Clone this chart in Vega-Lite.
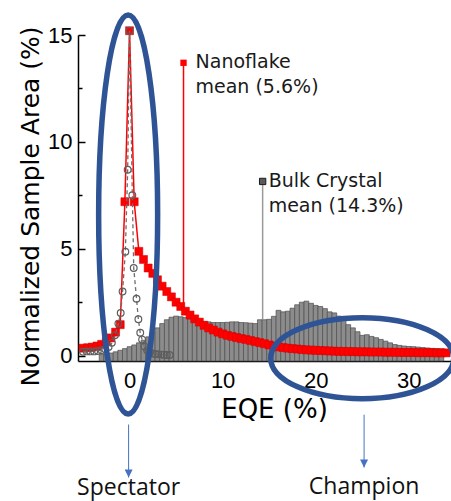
{
  "$schema": "https://vega.github.io/schema/vega-lite/v6.json",
  "width": 373,
  "height": 326,
  "autosize": {"type": "none"},
  "padding": {"left": 78, "top": 35, "right": 0, "bottom": 140},
  "background": "white",
  "config": {
    "view": {"stroke": null},
    "axis": {
      "grid": false,
      "domainColor": "#000",
      "domainWidth": 1.5,
      "tickColor": "#000",
      "tickWidth": 1.5,
      "labelColor": "#000",
      "labelFont": "Liberation Sans",
      "labelFontSize": 22,
      "titleColor": "#000",
      "titleFont": "DejaVu Sans",
      "titleFontWeight": "normal"
    }
  },
  "datasets": {
    "hist": [
      {"eqe": -3.0, "area": 0.05}, {"eqe": -2.5, "area": 0.08}, {"eqe": -2.0, "area": 0.12}, {"eqe": -1.5, "area": 0.18},
      {"eqe": -1.0, "area": 0.25}, {"eqe": -0.5, "area": 0.33}, {"eqe": 0.0, "area": 0.42}, {"eqe": 0.5, "area": 0.5},
      {"eqe": 1.0, "area": 0.6}, {"eqe": 1.5, "area": 0.72}, {"eqe": 2.0, "area": 0.88}, {"eqe": 2.5, "area": 1.1},
      {"eqe": 3.0, "area": 1.3}, {"eqe": 3.5, "area": 1.5}, {"eqe": 4.0, "area": 1.68}, {"eqe": 4.5, "area": 1.8},
      {"eqe": 5.0, "area": 1.85}, {"eqe": 5.5, "area": 1.82}, {"eqe": 6.0, "area": 1.78}, {"eqe": 6.5, "area": 1.72},
      {"eqe": 7.0, "area": 1.68}, {"eqe": 7.5, "area": 1.62}, {"eqe": 8.0, "area": 1.6}, {"eqe": 8.5, "area": 1.58},
      {"eqe": 9.0, "area": 1.55}, {"eqe": 9.5, "area": 1.55}, {"eqe": 10.0, "area": 1.55}, {"eqe": 10.5, "area": 1.56},
      {"eqe": 11.0, "area": 1.58}, {"eqe": 11.5, "area": 1.58}, {"eqe": 12.0, "area": 1.55}, {"eqe": 12.5, "area": 1.54},
      {"eqe": 13.0, "area": 1.52}, {"eqe": 13.5, "area": 1.5}, {"eqe": 14.0, "area": 1.68}, {"eqe": 14.5, "area": 1.68},
      {"eqe": 15.0, "area": 1.7}, {"eqe": 15.5, "area": 1.84}, {"eqe": 16.0, "area": 2.12}, {"eqe": 16.5, "area": 2.05},
      {"eqe": 17.0, "area": 2.08}, {"eqe": 17.5, "area": 2.22}, {"eqe": 18.0, "area": 2.38}, {"eqe": 18.5, "area": 2.5},
      {"eqe": 19.0, "area": 2.55}, {"eqe": 19.5, "area": 2.45}, {"eqe": 20.0, "area": 2.35}, {"eqe": 20.5, "area": 2.3},
      {"eqe": 21.0, "area": 2.2}, {"eqe": 21.5, "area": 2.05}, {"eqe": 22.0, "area": 2.0}, {"eqe": 22.5, "area": 1.85},
      {"eqe": 23.0, "area": 1.65}, {"eqe": 23.5, "area": 1.45}, {"eqe": 24.0, "area": 1.3}, {"eqe": 24.5, "area": 1.12},
      {"eqe": 25.0, "area": 0.95}, {"eqe": 25.5, "area": 0.98}, {"eqe": 26.0, "area": 0.9}, {"eqe": 26.5, "area": 0.84},
      {"eqe": 27.0, "area": 0.76}, {"eqe": 27.5, "area": 0.68}, {"eqe": 28.0, "area": 0.6}, {"eqe": 28.5, "area": 0.52},
      {"eqe": 29.0, "area": 0.48}, {"eqe": 29.5, "area": 0.45}, {"eqe": 30.0, "area": 0.43}, {"eqe": 30.5, "area": 0.42},
      {"eqe": 31.0, "area": 0.4}, {"eqe": 31.5, "area": 0.38}, {"eqe": 32.0, "area": 0.36}, {"eqe": 32.5, "area": 0.34},
      {"eqe": 33.0, "area": 0.33}, {"eqe": 33.5, "area": 0.32}
    ],
    "nano": [
      {"eqe": -5.0, "area": 0.35}, {"eqe": -4.5, "area": 0.37}, {"eqe": -4.0, "area": 0.4}, {"eqe": -3.5, "area": 0.45},
      {"eqe": -3.0, "area": 0.53}, {"eqe": -2.5, "area": 0.65}, {"eqe": -2.0, "area": 0.83}, {"eqe": -1.5, "area": 1.1},
      {"eqe": -1.0, "area": 1.45}, {"eqe": -0.5, "area": 7.2}, {"eqe": 0.0, "area": 15.2}, {"eqe": 0.5, "area": 7.2},
      {"eqe": 1.0, "area": 4.88}, {"eqe": 1.5, "area": 4.5}, {"eqe": 2.0, "area": 4.1}, {"eqe": 2.5, "area": 3.85},
      {"eqe": 3.0, "area": 3.55}, {"eqe": 3.5, "area": 3.25}, {"eqe": 4.0, "area": 3.0}, {"eqe": 4.5, "area": 2.75},
      {"eqe": 5.0, "area": 2.5}, {"eqe": 5.5, "area": 2.3}, {"eqe": 6.0, "area": 2.08}, {"eqe": 6.5, "area": 1.9},
      {"eqe": 7.0, "area": 1.72}, {"eqe": 7.5, "area": 1.57}, {"eqe": 8.0, "area": 1.42}, {"eqe": 8.5, "area": 1.3},
      {"eqe": 9.0, "area": 1.2}, {"eqe": 9.5, "area": 1.1}, {"eqe": 10.0, "area": 1.02}, {"eqe": 10.5, "area": 0.95},
      {"eqe": 11.0, "area": 0.9}, {"eqe": 11.5, "area": 0.85}, {"eqe": 12.0, "area": 0.8}, {"eqe": 12.5, "area": 0.76},
      {"eqe": 13.0, "area": 0.71}, {"eqe": 13.5, "area": 0.66}, {"eqe": 14.0, "area": 0.61}, {"eqe": 14.5, "area": 0.56},
      {"eqe": 15.0, "area": 0.5}, {"eqe": 15.5, "area": 0.45}, {"eqe": 16.0, "area": 0.41}, {"eqe": 16.5, "area": 0.38},
      {"eqe": 17.0, "area": 0.35}, {"eqe": 17.5, "area": 0.33}, {"eqe": 18.0, "area": 0.31}, {"eqe": 18.5, "area": 0.29},
      {"eqe": 19.0, "area": 0.27}, {"eqe": 19.5, "area": 0.26}, {"eqe": 20.0, "area": 0.25}, {"eqe": 20.5, "area": 0.24},
      {"eqe": 21.0, "area": 0.23}, {"eqe": 21.5, "area": 0.22}, {"eqe": 22.0, "area": 0.21}, {"eqe": 22.5, "area": 0.2},
      {"eqe": 23.0, "area": 0.2}, {"eqe": 23.5, "area": 0.19}, {"eqe": 24.0, "area": 0.19}, {"eqe": 24.5, "area": 0.18},
      {"eqe": 25.0, "area": 0.18}, {"eqe": 25.5, "area": 0.18}, {"eqe": 26.0, "area": 0.17}, {"eqe": 26.5, "area": 0.17},
      {"eqe": 27.0, "area": 0.17}, {"eqe": 27.5, "area": 0.16}, {"eqe": 28.0, "area": 0.16}, {"eqe": 28.5, "area": 0.16},
      {"eqe": 29.0, "area": 0.15}, {"eqe": 29.5, "area": 0.15}, {"eqe": 30.0, "area": 0.15}, {"eqe": 30.5, "area": 0.15},
      {"eqe": 31.0, "area": 0.14}, {"eqe": 31.5, "area": 0.14}, {"eqe": 32.0, "area": 0.14}, {"eqe": 32.5, "area": 0.14},
      {"eqe": 33.0, "area": 0.13}, {"eqe": 33.5, "area": 0.13}, {"eqe": 34.0, "area": 0.13}
    ],
    "dots": [
      {"eqe": -5.0, "area": 0.18}, {"eqe": -4.6, "area": 0.2}, {"eqe": -4.2, "area": 0.2}, {"eqe": -3.8, "area": 0.2},
      {"eqe": -3.4, "area": 0.22}, {"eqe": -3.0, "area": 0.25}, {"eqe": -2.6, "area": 0.3}, {"eqe": -2.25, "area": 0.4},
      {"eqe": -1.9, "area": 0.6}, {"eqe": -1.57, "area": 0.95}, {"eqe": -1.2, "area": 1.5}, {"eqe": -0.95, "area": 2.0},
      {"eqe": -0.75, "area": 3.0}, {"eqe": -0.45, "area": 4.86}, {"eqe": -0.2, "area": 8.7}, {"eqe": 0.0, "area": 15.2},
      {"eqe": 0.3, "area": 7.5}, {"eqe": 0.45, "area": 4.1}, {"eqe": 0.75, "area": 2.66}, {"eqe": 0.95, "area": 1.7},
      {"eqe": 1.15, "area": 1.07}, {"eqe": 1.35, "area": 0.75}, {"eqe": 1.6, "area": 0.43}, {"eqe": 1.9, "area": 0.25},
      {"eqe": 2.2, "area": 0.15}, {"eqe": 2.5, "area": 0.1}, {"eqe": 2.8, "area": 0.08}, {"eqe": 3.1, "area": 0.06},
      {"eqe": 3.4, "area": 0.05}, {"eqe": 3.7, "area": 0.04}, {"eqe": 4.0, "area": 0.03}, {"eqe": 4.3, "area": 0.03}
    ],
    "means": [
      {"sample": "Nanoflake", "mean": 5.8, "top": 13.7, "base": 2.05, "label": "Nanoflake\nmean (5.6%)"},
      {"sample": "Bulk Crystal", "mean": 14.3, "top": 8.15, "base": 1.7, "label": "Bulk Crystal\nmean (14.3%)"}
    ],
    "notes": [
      {"tag": "Spectator", "cx": -0.15, "cy": 6.6, "ax": -0.1, "ay1": -3.22, "ay2": -5.7, "ty": -6.5},
      {"tag": "Champion", "cx": 25.0, "cy": -0.12, "ax": 25.2, "ay1": -2.76, "ay2": -5.23, "ty": -6.45}
    ]
  },
  "layer": [
    {
      "data": {"name": "hist"},
      "mark": {"type": "bar", "size": 4.8, "fill": "#8c8c8c", "stroke": "#4d4d4d", "strokeWidth": 0.7},
      "encoding": {
        "x": {
          "field": "eqe", "type": "quantitative",
          "scale": {"domain": [-5, 34], "nice": false, "zero": false},
          "axis": {
            "title": "EQE (%)",
            "titleFontSize": 26,
            "titleX": 196,
            "titleY": 56,
            "titleBaseline": "alphabetic",
            "values": [0, 5, 10, 15, 20, 25, 30],
            "labelExpr": "datum.value % 10 === 0 ? datum.label : ''",
            "tickSize": {"condition": {"test": "datum.value % 10 === 0", "value": -7}, "value": -4},
            "labelPadding": 16,
            "labelFlush": false
          }
        },
        "y": {
          "field": "area", "type": "quantitative",
          "scale": {"domain": [-0.25, 15], "nice": false, "zero": false},
          "axis": {
            "title": "Normalized Sample Area (%)",
            "titleFontSize": 25,
            "titleX": -40,
            "titleY": 171,
            "titleBaseline": "alphabetic",
            "values": [0, 2.5, 5, 7.5, 10, 12.5, 15],
            "labelExpr": "datum.value % 5 === 0 ? datum.label : ''",
            "tickSize": {"condition": {"test": "datum.value % 5 === 0", "value": -7}, "value": -4},
            "labelPadding": 13,
            "labelFlush": false
          }
        },
        "y2": {"datum": -0.25}
      }
    },
    {
      "data": {"name": "means"},
      "transform": [{"filter": "datum.sample === 'Bulk Crystal'"}],
      "mark": {"type": "rule", "color": "#9a9a9a", "strokeWidth": 1.5},
      "encoding": {
        "x": {"field": "mean", "type": "quantitative", "scale": {"domain": [-5, 34], "nice": false, "zero": false}},
        "y": {"field": "top", "type": "quantitative", "scale": {"domain": [-0.25, 15], "nice": false, "zero": false}},
        "y2": {"field": "base"}
      }
    },
    {
      "data": {"name": "means"},
      "transform": [{"filter": "datum.sample === 'Nanoflake'"}],
      "mark": {"type": "rule", "color": "#ff0000", "strokeWidth": 1.5},
      "encoding": {
        "x": {"field": "mean", "type": "quantitative", "scale": {"domain": [-5, 34], "nice": false, "zero": false}},
        "y": {"field": "top", "type": "quantitative", "scale": {"domain": [-0.25, 15], "nice": false, "zero": false}},
        "y2": {"field": "base"}
      }
    },
    {
      "data": {"name": "nano"},
      "mark": {"type": "line", "color": "#ff0000", "strokeWidth": 1.5},
      "encoding": {
        "x": {"field": "eqe", "type": "quantitative", "scale": {"domain": [-5, 34], "nice": false, "zero": false}},
        "y": {"field": "area", "type": "quantitative", "scale": {"domain": [-0.25, 15], "nice": false, "zero": false}}
      }
    },
    {
      "data": {"name": "nano"},
      "mark": {"type": "point", "shape": "square", "filled": true, "size": 64, "fill": "#ff0000", "stroke": "#d00000", "strokeWidth": 0.5, "opacity": 1},
      "encoding": {
        "x": {"field": "eqe", "type": "quantitative", "scale": {"domain": [-5, 34], "nice": false, "zero": false}},
        "y": {"field": "area", "type": "quantitative", "scale": {"domain": [-0.25, 15], "nice": false, "zero": false}}
      }
    },
    {
      "data": {"name": "dots"},
      "mark": {"type": "line", "color": "#6e6e6e", "strokeWidth": 1.3, "strokeDash": [4, 3]},
      "encoding": {
        "x": {"field": "eqe", "type": "quantitative", "scale": {"domain": [-5, 34], "nice": false, "zero": false}},
        "y": {"field": "area", "type": "quantitative", "scale": {"domain": [-0.25, 15], "nice": false, "zero": false}}
      }
    },
    {
      "data": {"name": "dots"},
      "mark": {"type": "point", "shape": "circle", "filled": false, "size": 45, "stroke": "#5e5e5e", "strokeWidth": 1.2, "opacity": 1},
      "encoding": {
        "x": {"field": "eqe", "type": "quantitative", "scale": {"domain": [-5, 34], "nice": false, "zero": false}},
        "y": {"field": "area", "type": "quantitative", "scale": {"domain": [-0.25, 15], "nice": false, "zero": false}}
      }
    },
    {
      "data": {"name": "means"},
      "transform": [{"filter": "datum.sample === 'Nanoflake'"}],
      "mark": {"type": "point", "shape": "square", "filled": true, "size": 40, "fill": "#ff0000", "opacity": 1},
      "encoding": {
        "x": {"field": "mean", "type": "quantitative", "scale": {"domain": [-5, 34], "nice": false, "zero": false}},
        "y": {"field": "top", "type": "quantitative", "scale": {"domain": [-0.25, 15], "nice": false, "zero": false}}
      }
    },
    {
      "data": {"name": "means"},
      "transform": [{"filter": "datum.sample === 'Bulk Crystal'"}],
      "mark": {"type": "point", "shape": "square", "filled": true, "size": 40, "fill": "#5a5a5a", "stroke": "#1a1a1a", "strokeWidth": 1, "opacity": 1},
      "encoding": {
        "x": {"field": "mean", "type": "quantitative", "scale": {"domain": [-5, 34], "nice": false, "zero": false}},
        "y": {"field": "top", "type": "quantitative", "scale": {"domain": [-0.25, 15], "nice": false, "zero": false}}
      }
    },
    {
      "data": {"name": "means"},
      "transform": [{"filter": "datum.sample === 'Nanoflake'"}],
      "mark": {"type": "text", "align": "left", "baseline": "alphabetic", "dx": 12, "dy": 5, "font": "DejaVu Sans", "fontSize": 19, "lineBreak": "\n", "lineHeight": 25, "color": "#1a1a1a"},
      "encoding": {
        "x": {"field": "mean", "type": "quantitative", "scale": {"domain": [-5, 34], "nice": false, "zero": false}},
        "y": {"field": "top", "type": "quantitative", "scale": {"domain": [-0.25, 15], "nice": false, "zero": false}},
        "text": {"field": "label"}
      }
    },
    {
      "data": {"name": "means"},
      "transform": [{"filter": "datum.sample === 'Bulk Crystal'"}],
      "mark": {"type": "text", "align": "left", "baseline": "alphabetic", "dx": 6, "dy": 6, "font": "DejaVu Sans", "fontSize": 19, "lineBreak": "\n", "lineHeight": 25, "color": "#1a1a1a"},
      "encoding": {
        "x": {"field": "mean", "type": "quantitative", "scale": {"domain": [-5, 34], "nice": false, "zero": false}},
        "y": {"field": "top", "type": "quantitative", "scale": {"domain": [-0.25, 15], "nice": false, "zero": false}},
        "text": {"field": "label"}
      }
    },
    {
      "data": {"name": "notes"},
      "mark": {"type": "point", "filled": false, "size": 4, "stroke": "#2F5496", "strokeWidth": 5.5, "opacity": 1},
      "encoding": {
        "x": {"field": "cx", "type": "quantitative", "scale": {"domain": [-5, 34], "nice": false, "zero": false}},
        "y": {"field": "cy", "type": "quantitative", "scale": {"domain": [-0.25, 15], "nice": false, "zero": false}},
        "shape": {
          "field": "tag", "type": "nominal", "legend": null,
          "scale": {
            "domain": ["Spectator", "Champion"],
            "range": [
              "M0,-199.5A29.5,199.5 0 1,1 0,199.5A29.5,199.5 0 1,1 0,-199.5Z",
              "M-91.5,0A91.5,40.5 0 1,1 91.5,0A91.5,40.5 0 1,1 -91.5,0Z"
            ]
          }
        }
      }
    },
    {
      "data": {"name": "notes"},
      "mark": {"type": "rule", "color": "#4472C4", "strokeWidth": 1},
      "encoding": {
        "x": {"field": "ax", "type": "quantitative", "scale": {"domain": [-5, 34], "nice": false, "zero": false}},
        "y": {"field": "ay1", "type": "quantitative", "scale": {"domain": [-0.25, 15], "nice": false, "zero": false}},
        "y2": {"field": "ay2"}
      }
    },
    {
      "data": {"name": "notes"},
      "mark": {"type": "point", "shape": "M-4,-8L4,-8L0,0Z", "filled": true, "size": 4, "fill": "#4472C4", "opacity": 1},
      "encoding": {
        "x": {"field": "ax", "type": "quantitative", "scale": {"domain": [-5, 34], "nice": false, "zero": false}},
        "y": {"field": "ay2", "type": "quantitative", "scale": {"domain": [-0.25, 15], "nice": false, "zero": false}}
      }
    },
    {
      "data": {"name": "notes"},
      "mark": {"type": "text", "align": "center", "baseline": "alphabetic", "font": "Open Sans", "fontSize": 23, "color": "#111"},
      "encoding": {
        "x": {"field": "ax", "type": "quantitative", "scale": {"domain": [-5, 34], "nice": false, "zero": false}},
        "y": {"field": "ty", "type": "quantitative", "scale": {"domain": [-0.25, 15], "nice": false, "zero": false}},
        "text": {"field": "tag"}
      }
    }
  ]
}
